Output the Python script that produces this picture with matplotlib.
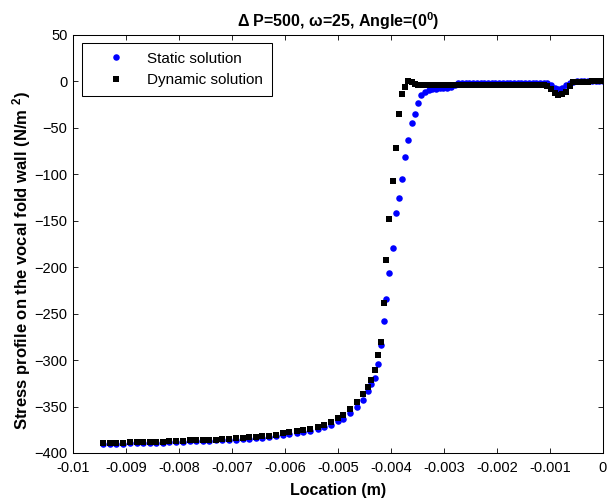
import matplotlib
matplotlib.use("Agg")
import matplotlib.pyplot as plt

plt.rcParams['font.family'] = ['Liberation Sans', 'DejaVu Sans']
plt.rcParams['mathtext.fontset'] = 'custom'
plt.rcParams['mathtext.rm'] = 'Liberation Sans:bold'
plt.rcParams['mathtext.bf'] = 'Liberation Sans:bold'
plt.rcParams['mathtext.default'] = 'bf'

# location along the wall (m)
location = [
    -0.00943, -0.00930, -0.00918, -0.00905, -0.00893, -0.00880, -0.00868, -0.00855, -0.00843, -0.00830,
    -0.00818, -0.00805, -0.00793, -0.00780, -0.00768, -0.00755, -0.00743, -0.00730, -0.00718, -0.00705,
    -0.00693, -0.00680, -0.00668, -0.00655, -0.00643, -0.00630, -0.00617, -0.00603, -0.00592, -0.00578,
    -0.00566, -0.00553, -0.00538, -0.00526, -0.00514, -0.00500, -0.00490, -0.00477, -0.00464, -0.00452,
    -0.00444, -0.00437, -0.00431, -0.00425, -0.00419, -0.00414, -0.00409, -0.00403, -0.00397, -0.00391,
    -0.00385, -0.00379, -0.00373, -0.00367, -0.00361, -0.00355, -0.00349, -0.00343, -0.00336, -0.00329,
    -0.00322, -0.00315, -0.00308, -0.00301, -0.00294, -0.00287, -0.00280, -0.00273, -0.00266, -0.00259,
    -0.00252, -0.00245, -0.00238, -0.00231, -0.00224, -0.00217, -0.00210, -0.00203, -0.00196, -0.00189,
    -0.00182, -0.00175, -0.00168, -0.00161, -0.00154, -0.00147, -0.00140, -0.00133, -0.00126, -0.00119,
    -0.00112, -0.00105, -0.00098, -0.00091, -0.00084, -0.00077, -0.00070, -0.00063, -0.00056, -0.00049,
    -0.00042, -0.00035, -0.00028, -0.00021, -0.00014, -0.00007, 0.0,
]

# static solution (blue dots)
static_stress = [
    -390, -390, -390, -390, -389.5, -389.5, -389.5, -389.5, -389, -389,
    -388.5, -388.5, -388, -387.5, -387.5, -387, -387, -386.5, -386.5, -386,
    -385.5, -385, -384.5, -384, -383.5, -383, -382, -381, -380, -378.5,
    -377.5, -376, -374, -372.5, -369.5, -366, -363, -357, -350.5, -343,
    -333, -326, -319, -304, -284, -258, -234, -206, -179, -142,
    -125, -105, -81, -63, -45, -35, -23, -14.5, -11, -9.5,
    -8.5, -8, -7.5, -7.5, -7, -6, -4, -2, -1.3, -1.3,
    -1.2, -1.3, -1.3, -1.2, -1.3, -1.3, -1.3, -1.2, -1.3, -1.3,
    -1.3, -1.3, -1.2, -1.3, -1.3, -1.3, -1.3, -1.3, -1.3, -1.4,
    -1.4, -2, -4, -7, -8.5, -7.5, -4, -1.2, -0.2, 0,
    0, 0, 0, 0, 0, 0, 0,
]

# dynamic solution (black squares)
dynamic_stress = [
    -389, -389, -389, -389, -388.5, -388.5, -388.5, -388.5, -388, -388,
    -387, -387, -387, -386.5, -386, -386, -385.5, -385.5, -385, -384.5,
    -384, -383.5, -383, -382.5, -381.7, -381.2, -380.3, -378.8, -377.7, -376.3,
    -375.2, -373.8, -371.5, -369.8, -366.6, -362.6, -359.4, -352.6, -345.4, -336.5,
    -328.5, -321, -311, -295, -280, -239, -192, -148, -107, -72,
    -35, -14, -6, 0.5, -1, -3, -3.5, -3.5, -3.4, -3.5,
    -3.5, -3.4, -3.5, -3.5, -3.6, -3.5, -3.5, -3.5, -3.4, -3.5,
    -3.5, -3.5, -3.6, -3.5, -3.5, -3.5, -3.4, -3.5, -3.5, -3.5,
    -3.5, -3.5, -3.5, -3.6, -3.5, -3.5, -3.5, -3.5, -3.5, -3.6,
    -3.6, -4.5, -8, -12.5, -14.5, -14, -11, -5, -1, -0.3,
    -0.3, -0.2, -0.2, -0.1, -0.1, 0.0, 0.0,
]

x_ticks = [-0.01, -0.009, -0.008, -0.007, -0.006, -0.005, -0.004, -0.003, -0.002, -0.001, 0]
x_tick_labels = ['-0.01', '-0.009', '-0.008', '-0.007', '-0.006', '-0.005',
                 '-0.004', '-0.003', '-0.002', '-0.001', '0']
y_ticks = [-400, -350, -300, -250, -200, -150, -100, -50, 0, 50]

fig = plt.figure(figsize=(6.07, 4.98), dpi=100)
ax = fig.add_axes([0.1203, 0.0904, 0.8731, 0.8394])

ax.plot(location, static_stress, linestyle='none', marker='o', markersize=4.7,
        color='#0000ff', markeredgewidth=0, label='Static solution')
ax.plot(location, dynamic_stress, linestyle='none', marker='s', markersize=4.4,
        color='black', markeredgewidth=0, label='Dynamic solution')

ax.set_xlim(-0.01, 0)
ax.set_ylim(-400, 50)
ax.set_xticks(x_ticks)
ax.set_xticklabels(x_tick_labels)
ax.set_yticks(y_ticks)
ax.tick_params(direction='in', length=3.5, width=0.6, top=True, right=True,
               labelsize=10.5, pad=4)
ax.tick_params(axis='x', pad=6)
for s in ax.spines.values():
    s.set_linewidth(0.75)

ax.set_title(r'$\Delta$ P=500, $\omega$=25, Angle=(0$^{0}$)', fontsize=11.5,
             fontweight='bold', pad=6)
ax.set_xlabel('Location (m)', fontsize=11.5, fontweight='bold')
ax.xaxis.set_label_coords(0.5, -0.071)
ax.set_ylabel(r'Stress profile on the vocal fold wall (N/m $^{2}$)', fontsize=12,
              fontweight='bold')
ax.yaxis.set_label_coords(-0.076, 0.46)

leg = ax.legend(loc='upper left', bbox_to_anchor=(0.0164, 0.98), borderaxespad=0,
                fontsize=11, numpoints=1, handlelength=3.4, handletextpad=0.35,
                borderpad=0.55, labelspacing=0.5, fancybox=False, framealpha=1)
leg.get_frame().set_edgecolor('black')
leg.get_frame().set_linewidth(0.75)

fig.savefig('out.png', dpi=100)
